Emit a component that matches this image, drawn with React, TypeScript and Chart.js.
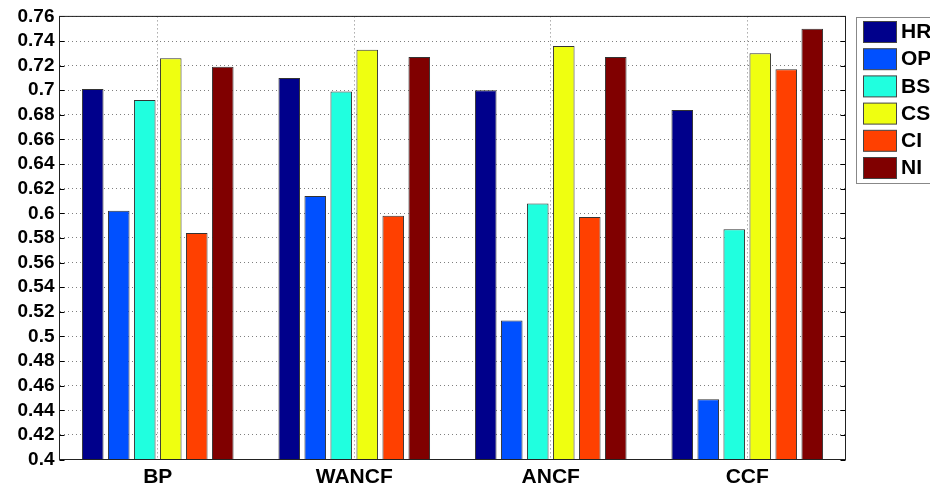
import React, { useEffect, useRef } from "react";
import { Chart, registerables } from "chart.js";

Chart.register(...registerables);

const categories = ["BP", "WANCF", "ANCF", "CCF"];
const seriesNames = ["HR", "OP", "BS", "CS", "CI", "NI"];
const HR = [0.701, 0.71, 0.7, 0.684];
const OP = [0.602, 0.614, 0.513, 0.449];
const BS = [0.692, 0.699, 0.608, 0.587];
const CS = [0.726, 0.733, 0.736, 0.73];
const CI = [0.584, 0.598, 0.597, 0.717];
const NI = [0.719, 0.727, 0.727, 0.75];
const seriesValues = [HR, OP, BS, CS, CI, NI];
const seriesColors = ["#00008B", "#0050FF", "#20FFDF", "#EFFF10", "#FF4000", "#800000"];
const yMin = 0.4;
const yMax = 0.76;
const yStep = 0.02;

const FONT = "'Liberation Sans', Arial, Helvetica, sans-serif";

const framePlugin = {
  id: "frameAndLegend",
  afterDraw(chart: any) {
    const ctx = chart.ctx;
    const a = chart.chartArea;
    const ys = chart.scales.y;
    ctx.save();
    // inward ticks
    ctx.strokeStyle = "#000";
    ctx.lineWidth = 1;
    ctx.beginPath();
    ys.ticks.forEach((t: any) => {
      const y = Math.round(ys.getPixelForValue(t.value)) + 0.5;
      ctx.moveTo(a.left, y);
      ctx.lineTo(a.left + 5, y);
      ctx.moveTo(a.right, y);
      ctx.lineTo(a.right - 5, y);
    });
    ctx.stroke();
    // frame
    ctx.strokeStyle = "#222";
    ctx.strokeRect(a.left, a.top, a.right - a.left, a.bottom - a.top);
    // legend
    const lx = 856.5;
    const ly = 17.5;
    ctx.fillStyle = "#fff";
    ctx.fillRect(lx, ly, 120, 166);
    ctx.strokeStyle = "#888";
    ctx.strokeRect(lx, ly, 120, 166);
    ctx.font = `bold 21px ${FONT}`;
    ctx.textBaseline = "middle";
    ctx.textAlign = "left";
    seriesNames.forEach((name, i) => {
      const ry = 21.5 + i * 27.2;
      ctx.fillStyle = seriesColors[i];
      ctx.fillRect(863.5, ry, 33, 21);
      ctx.strokeStyle = "#444";
      ctx.strokeRect(863.5, ry, 33, 21);
      ctx.fillStyle = "#000";
      ctx.fillText(name, 901, ry + 11);
    });
    ctx.restore();
  },
};

export default function App() {
  const ref = useRef<HTMLCanvasElement | null>(null);
  useEffect(() => {
    if (!ref.current) return;
    const chart = new Chart(ref.current, {
      type: "bar",
      data: {
        labels: categories,
        datasets: seriesNames.map((n, i) => ({
          label: n,
          data: seriesValues[i],
          backgroundColor: seriesColors[i],
          borderColor: "#333",
          borderWidth: 1,
          categoryPercentage: 0.794,
          barPercentage: 0.83,
        })),
      },
      options: {
        responsive: false,
        animation: false,
        devicePixelRatio: 1,
        layout: { padding: { top: 16, right: 84.5, bottom: 0, left: 0 } },
        plugins: { legend: { display: false }, tooltip: { enabled: false } },
        scales: {
          x: {
            grid: {
              offset: false,
              drawTicks: false,
              color: "rgba(0,0,0,0.5)",
              lineWidth: 1,
            },
            border: { display: true, color: "#222", dash: [1, 3] },
            ticks: {
              color: "#000",
              padding: 5,
              font: { family: FONT, size: 21, weight: "bold" },
            },
            afterFit(scale: any) {
              scale.height = 27.5;
            },
          },
          y: {
            min: yMin,
            max: yMax,
            grid: { drawTicks: false, color: "rgba(0,0,0,0.5)", lineWidth: 1 },
            border: { display: true, color: "#222", dash: [1, 3] },
            ticks: {
              stepSize: yStep,
              autoSkip: false,
              color: "#000",
              padding: 5,
              font: { family: FONT, size: 19, weight: "bold" },
              callback: (v: any) => String(+Number(v).toFixed(2)),
            },
            afterFit(scale: any) {
              scale.width = 59.5;
            },
          },
        },
      },
      plugins: [framePlugin],
    });
    return () => chart.destroy();
  }, []);
  return (
    <div style={{ position: "fixed", left: 0, top: 0, width: 930, height: 487, background: "#fff" }}>
      <canvas ref={ref} width={930} height={487} />
    </div>
  );
}
